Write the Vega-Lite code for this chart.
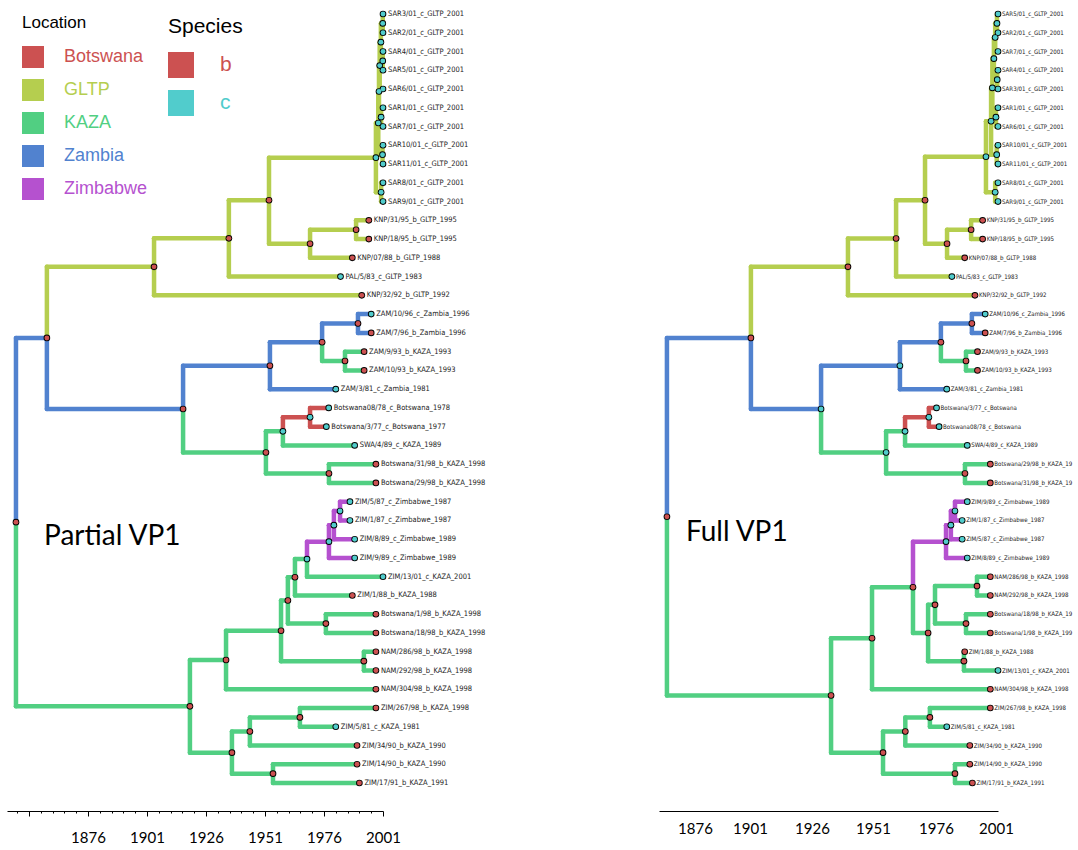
{
  "$schema": "https://vega.github.io/schema/vega-lite/v6.json",
  "padding": {"left": 7, "top": 0, "right": 0, "bottom": 0},
  "background": "white",
  "bounds": "flush",
  "spacing": 276,
  "config": {"view": {"stroke": null}, "font": "Liberation Sans"},
  "datasets": {
    "tree": [
      {"p":"L","x":1845.5,"y":28.09,"loc":"Zambia","sp":"b"},
      {"p":"L","x":1858.6,"y":18.27,"px":1845.5,"py":28.09,"loc":"Zambia","sp":"b"},
      {"p":"L","x":1919.2,"y":37.91,"px":1845.5,"py":28.09,"loc":"KAZA","sp":"b"},
      {"p":"L","x":1904.0,"y":14.48,"px":1858.6,"py":18.27,"loc":"GLTP","sp":"b"},
      {"p":"L","x":1916.3,"y":22.06,"px":1858.6,"py":18.27,"loc":"Zambia","sp":"b"},
      {"p":"L","x":1935.7,"y":12.96,"px":1904.0,"py":14.48,"loc":"GLTP","sp":"b"},
      {"p":"L","x":1992,"y":16,"px":1904.0,"py":14.48,"loc":"GLTP","sp":"b","lab":"KNP/32/92_b_GLTP_1992"},
      {"p":"L","x":1952.7,"y":10.93,"px":1935.7,"py":12.96,"loc":"GLTP","sp":"b"},
      {"p":"L","x":1983,"y":15,"px":1935.7,"py":12.96,"loc":"GLTP","sp":"c","lab":"PAL/5/83_c_GLTP_1983"},
      {"p":"L","x":1998.0,"y":8.66,"px":1952.7,"py":10.93,"loc":"GLTP","sp":"c"},
      {"p":"L","x":1970.1,"y":13.25,"px":1952.7,"py":10.93,"loc":"GLTP","sp":"b"},
      {"p":"L","x":1989.6,"y":12.5,"px":1970.1,"py":13.25,"loc":"GLTP","sp":"b"},
      {"p":"L","x":1988,"y":14,"px":1970.1,"py":13.25,"loc":"GLTP","sp":"b","lab":"KNP/07/88_b_GLTP_1988"},
      {"p":"L","x":1995,"y":12,"px":1989.6,"py":12.5,"loc":"GLTP","sp":"b","lab":"KNP/31/95_b_GLTP_1995"},
      {"p":"L","x":1995,"y":13,"px":1989.6,"py":12.5,"loc":"GLTP","sp":"b","lab":"KNP/18/95_b_GLTP_1995"},
      {"p":"L","x":1999.0,"y":6.81,"px":1998.0,"py":8.66,"loc":"GLTP","sp":"c"},
      {"p":"L","x":2000.2,"y":10.5,"px":1998.0,"py":8.66,"loc":"GLTP","sp":"c"},
      {"p":"L","x":1999.3,"y":5.13,"px":1999.0,"py":6.81,"loc":"GLTP","sp":"c"},
      {"p":"L","x":2000.8,"y":8.5,"px":1999.0,"py":6.81,"loc":"GLTP","sp":"c"},
      {"p":"L","x":1999.6,"y":3.75,"px":1999.3,"py":5.13,"loc":"GLTP","sp":"c"},
      {"p":"L","x":2000.2,"y":6.5,"px":1999.3,"py":5.13,"loc":"GLTP","sp":"c"},
      {"p":"L","x":2000.1,"y":2.5,"px":1999.6,"py":3.75,"loc":"GLTP","sp":"c"},
      {"p":"L","x":2001,"y":5,"px":1999.6,"py":3.75,"loc":"GLTP","sp":"c","lab":"SAR6/01_c_GLTP_2001"},
      {"p":"L","x":2000.9,"y":1.5,"px":2000.1,"py":2.5,"loc":"GLTP","sp":"c"},
      {"p":"L","x":2000.9,"y":3.5,"px":2000.1,"py":2.5,"loc":"GLTP","sp":"c"},
      {"p":"L","x":2001,"y":1,"px":2000.9,"py":1.5,"loc":"GLTP","sp":"c","lab":"SAR3/01_c_GLTP_2001"},
      {"p":"L","x":2001,"y":2,"px":2000.9,"py":1.5,"loc":"GLTP","sp":"c","lab":"SAR2/01_c_GLTP_2001"},
      {"p":"L","x":2001,"y":3,"px":2000.9,"py":3.5,"loc":"GLTP","sp":"c","lab":"SAR4/01_c_GLTP_2001"},
      {"p":"L","x":2001,"y":4,"px":2000.9,"py":3.5,"loc":"GLTP","sp":"c","lab":"SAR5/01_c_GLTP_2001"},
      {"p":"L","x":2001,"y":6,"px":2000.2,"py":6.5,"loc":"GLTP","sp":"c","lab":"SAR1/01_c_GLTP_2001"},
      {"p":"L","x":2001,"y":7,"px":2000.2,"py":6.5,"loc":"GLTP","sp":"c","lab":"SAR7/01_c_GLTP_2001"},
      {"p":"L","x":2001,"y":8,"px":2000.8,"py":8.5,"loc":"GLTP","sp":"c","lab":"SAR10/01_c_GLTP_2001"},
      {"p":"L","x":2001,"y":9,"px":2000.8,"py":8.5,"loc":"GLTP","sp":"c","lab":"SAR11/01_c_GLTP_2001"},
      {"p":"L","x":2001,"y":10,"px":2000.2,"py":10.5,"loc":"GLTP","sp":"c","lab":"SAR8/01_c_GLTP_2001"},
      {"p":"L","x":2001,"y":11,"px":2000.2,"py":10.5,"loc":"GLTP","sp":"c","lab":"SAR9/01_c_GLTP_2001"},
      {"p":"L","x":1953.1,"y":19.75,"px":1916.3,"py":22.06,"loc":"Zambia","sp":"b"},
      {"p":"L","x":1951.4,"y":24.38,"px":1916.3,"py":22.06,"loc":"KAZA","sp":"b"},
      {"p":"L","x":1975.2,"y":18.5,"px":1953.1,"py":19.75,"loc":"Zambia","sp":"b"},
      {"p":"L","x":1981,"y":21,"px":1953.1,"py":19.75,"loc":"Zambia","sp":"c","lab":"ZAM/3/81_c_Zambia_1981"},
      {"p":"L","x":1990.4,"y":17.5,"px":1975.2,"py":18.5,"loc":"Zambia","sp":"b"},
      {"p":"L","x":1984.9,"y":19.5,"px":1975.2,"py":18.5,"loc":"KAZA","sp":"b"},
      {"p":"L","x":1996,"y":17,"px":1990.4,"py":17.5,"loc":"Zambia","sp":"c","lab":"ZAM/10/96_c_Zambia_1996"},
      {"p":"L","x":1996,"y":18,"px":1990.4,"py":17.5,"loc":"Zambia","sp":"b","lab":"ZAM/7/96_b_Zambia_1996"},
      {"p":"L","x":1993,"y":19,"px":1984.9,"py":19.5,"loc":"KAZA","sp":"b","lab":"ZAM/9/93_b_KAZA_1993"},
      {"p":"L","x":1993,"y":20,"px":1984.9,"py":19.5,"loc":"KAZA","sp":"b","lab":"ZAM/10/93_b_KAZA_1993"},
      {"p":"L","x":1958.6,"y":23.25,"px":1951.4,"py":24.38,"loc":"KAZA","sp":"c"},
      {"p":"L","x":1978.1,"y":25.5,"px":1951.4,"py":24.38,"loc":"KAZA","sp":"b"},
      {"p":"L","x":1970.1,"y":22.5,"px":1958.6,"py":23.25,"loc":"Botswana","sp":"c"},
      {"p":"L","x":1989,"y":24,"px":1958.6,"py":23.25,"loc":"KAZA","sp":"c","lab":"SWA/4/89_c_KAZA_1989"},
      {"p":"L","x":1978,"y":22,"px":1970.1,"py":22.5,"loc":"Botswana","sp":"c","lab":"Botswana08/78_c_Botswana_1978"},
      {"p":"L","x":1977,"y":23,"px":1970.1,"py":22.5,"loc":"Botswana","sp":"c","lab":"Botswana/3/77_c_Botswana_1977"},
      {"p":"L","x":1998,"y":25,"px":1978.1,"py":25.5,"loc":"KAZA","sp":"b","lab":"Botswana/31/98_b_KAZA_1998"},
      {"p":"L","x":1998,"y":26,"px":1978.1,"py":25.5,"loc":"KAZA","sp":"b","lab":"Botswana/29/98_b_KAZA_1998"},
      {"p":"L","x":1934.5,"y":35.44,"px":1919.2,"py":37.91,"loc":"KAZA","sp":"b"},
      {"p":"L","x":1937.0,"y":40.38,"px":1919.2,"py":37.91,"loc":"KAZA","sp":"b"},
      {"p":"L","x":1957.8,"y":33.88,"px":1934.5,"py":35.44,"loc":"KAZA","sp":"b"},
      {"p":"L","x":1998,"y":37,"px":1934.5,"py":35.44,"loc":"KAZA","sp":"b","lab":"NAM/304/98_b_KAZA_1998"},
      {"p":"L","x":1960.7,"y":32.27,"px":1957.8,"py":33.88,"loc":"KAZA","sp":"b"},
      {"p":"L","x":1992.9,"y":35.5,"px":1957.8,"py":33.88,"loc":"KAZA","sp":"b"},
      {"p":"L","x":1998,"y":35,"px":1992.9,"py":35.5,"loc":"KAZA","sp":"b","lab":"NAM/286/98_b_KAZA_1998"},
      {"p":"L","x":1998,"y":36,"px":1992.9,"py":35.5,"loc":"KAZA","sp":"b","lab":"NAM/292/98_b_KAZA_1998"},
      {"p":"L","x":1963.7,"y":31.03,"px":1960.7,"py":32.27,"loc":"KAZA","sp":"b"},
      {"p":"L","x":1976.8,"y":33.5,"px":1960.7,"py":32.27,"loc":"KAZA","sp":"b"},
      {"p":"L","x":1998,"y":33,"px":1976.8,"py":33.5,"loc":"KAZA","sp":"b","lab":"Botswana/1/98_b_KAZA_1998"},
      {"p":"L","x":1998,"y":34,"px":1976.8,"py":33.5,"loc":"KAZA","sp":"b","lab":"Botswana/18/98_b_KAZA_1998"},
      {"p":"L","x":1968.8,"y":30.06,"px":1963.7,"py":31.03,"loc":"KAZA","sp":"c"},
      {"p":"L","x":1988,"y":32,"px":1963.7,"py":31.03,"loc":"KAZA","sp":"b","lab":"ZIM/1/88_b_KAZA_1988"},
      {"p":"L","x":1978.1,"y":29.13,"px":1968.8,"py":30.06,"loc":"Zimbabwe","sp":"c"},
      {"p":"L","x":2001,"y":31,"px":1968.8,"py":30.06,"loc":"KAZA","sp":"c","lab":"ZIM/13/01_c_KAZA_2001"},
      {"p":"L","x":1980.2,"y":28.25,"px":1978.1,"py":29.13,"loc":"Zimbabwe","sp":"c"},
      {"p":"L","x":1989,"y":30,"px":1978.1,"py":29.13,"loc":"Zimbabwe","sp":"c","lab":"ZIM/9/89_c_Zimbabwe_1989"},
      {"p":"L","x":1982.8,"y":27.5,"px":1980.2,"py":28.25,"loc":"Zimbabwe","sp":"c"},
      {"p":"L","x":1989,"y":29,"px":1980.2,"py":28.25,"loc":"Zimbabwe","sp":"c","lab":"ZIM/8/89_c_Zimbabwe_1989"},
      {"p":"L","x":1987,"y":27,"px":1982.8,"py":27.5,"loc":"Zimbabwe","sp":"c","lab":"ZIM/5/87_c_Zimbabwe_1987"},
      {"p":"L","x":1987,"y":28,"px":1982.8,"py":27.5,"loc":"Zimbabwe","sp":"c","lab":"ZIM/1/87_c_Zimbabwe_1987"},
      {"p":"L","x":1944.6,"y":39.25,"px":1937.0,"py":40.38,"loc":"KAZA","sp":"b"},
      {"p":"L","x":1954.4,"y":41.5,"px":1937.0,"py":40.38,"loc":"KAZA","sp":"b"},
      {"p":"L","x":1965.8,"y":38.5,"px":1944.6,"py":39.25,"loc":"KAZA","sp":"b"},
      {"p":"L","x":1990,"y":40,"px":1944.6,"py":39.25,"loc":"KAZA","sp":"b","lab":"ZIM/34/90_b_KAZA_1990"},
      {"p":"L","x":1998,"y":38,"px":1965.8,"py":38.5,"loc":"KAZA","sp":"b","lab":"ZIM/267/98_b_KAZA_1998"},
      {"p":"L","x":1981,"y":39,"px":1965.8,"py":38.5,"loc":"KAZA","sp":"c","lab":"ZIM/5/81_c_KAZA_1981"},
      {"p":"L","x":1990,"y":41,"px":1954.4,"py":41.5,"loc":"KAZA","sp":"b","lab":"ZIM/14/90_b_KAZA_1990"},
      {"p":"L","x":1991,"y":42,"px":1954.4,"py":41.5,"loc":"KAZA","sp":"b","lab":"ZIM/17/91_b_KAZA_1991"},

      {"p":"R","x":1871.7,"y":27.8,"loc":"Zambia","sp":"b"},
      {"p":"R","x":1904.5,"y":18.27,"px":1871.7,"py":27.8,"loc":"Zambia","sp":"b"},
      {"p":"R","x":1935.8,"y":37.33,"px":1871.7,"py":27.8,"loc":"KAZA","sp":"b"},
      {"p":"R","x":1942.4,"y":14.48,"px":1904.5,"py":18.27,"loc":"GLTP","sp":"b"},
      {"p":"R","x":1931.9,"y":22.06,"px":1904.5,"py":18.27,"loc":"Zambia","sp":"c"},
      {"p":"R","x":1961.2,"y":12.97,"px":1942.4,"py":14.48,"loc":"GLTP","sp":"b"},
      {"p":"R","x":1992,"y":16,"px":1942.4,"py":14.48,"loc":"GLTP","sp":"b","lab":"KNP/32/92_b_GLTP_1992"},
      {"p":"R","x":1972.5,"y":10.93,"px":1961.2,"py":12.97,"loc":"GLTP","sp":"b"},
      {"p":"R","x":1983,"y":15,"px":1961.2,"py":12.97,"loc":"GLTP","sp":"c","lab":"PAL/5/83_c_GLTP_1983"},
      {"p":"R","x":1996.3,"y":8.61,"px":1972.5,"py":10.93,"loc":"GLTP","sp":"c"},
      {"p":"R","x":1981.1,"y":13.25,"px":1972.5,"py":10.93,"loc":"GLTP","sp":"b"},
      {"p":"R","x":1990.5,"y":12.5,"px":1981.1,"py":13.25,"loc":"GLTP","sp":"b"},
      {"p":"R","x":1988,"y":14,"px":1981.1,"py":13.25,"loc":"GLTP","sp":"b","lab":"KNP/07/88_b_GLTP_1988"},
      {"p":"R","x":1995,"y":12,"px":1990.5,"py":12.5,"loc":"GLTP","sp":"b","lab":"KNP/31/95_b_GLTP_1995"},
      {"p":"R","x":1995,"y":13,"px":1990.5,"py":12.5,"loc":"GLTP","sp":"b","lab":"KNP/18/95_b_GLTP_1995"},
      {"p":"R","x":1998.3,"y":6.72,"px":1996.3,"py":8.61,"loc":"GLTP","sp":"c"},
      {"p":"R","x":1999.9,"y":10.5,"px":1996.3,"py":8.61,"loc":"GLTP","sp":"c"},
      {"p":"R","x":1998.8,"y":4.94,"px":1998.3,"py":6.72,"loc":"GLTP","sp":"c"},
      {"p":"R","x":2000.5,"y":8.5,"px":1998.3,"py":6.72,"loc":"GLTP","sp":"c"},
      {"p":"R","x":1999.4,"y":3.38,"px":1998.8,"py":4.94,"loc":"GLTP","sp":"c"},
      {"p":"R","x":2000.2,"y":6.5,"px":1998.8,"py":4.94,"loc":"GLTP","sp":"c"},
      {"p":"R","x":1999.9,"y":2.25,"px":1999.4,"py":3.38,"loc":"GLTP","sp":"c"},
      {"p":"R","x":2000.7,"y":4.5,"px":1999.4,"py":3.38,"loc":"GLTP","sp":"c"},
      {"p":"R","x":2000.6,"y":1.5,"px":1999.9,"py":2.25,"loc":"GLTP","sp":"c"},
      {"p":"R","x":2001,"y":3,"px":1999.9,"py":2.25,"loc":"GLTP","sp":"c","lab":"SAR7/01_c_GLTP_2001"},
      {"p":"R","x":2001,"y":1,"px":2000.6,"py":1.5,"loc":"GLTP","sp":"c","lab":"SAR5/01_c_GLTP_2001"},
      {"p":"R","x":2001,"y":2,"px":2000.6,"py":1.5,"loc":"GLTP","sp":"c","lab":"SAR2/01_c_GLTP_2001"},
      {"p":"R","x":2001,"y":4,"px":2000.7,"py":4.5,"loc":"GLTP","sp":"c","lab":"SAR4/01_c_GLTP_2001"},
      {"p":"R","x":2001,"y":5,"px":2000.7,"py":4.5,"loc":"GLTP","sp":"c","lab":"SAR3/01_c_GLTP_2001"},
      {"p":"R","x":2001,"y":6,"px":2000.2,"py":6.5,"loc":"GLTP","sp":"c","lab":"SAR1/01_c_GLTP_2001"},
      {"p":"R","x":2001,"y":7,"px":2000.2,"py":6.5,"loc":"GLTP","sp":"c","lab":"SAR6/01_c_GLTP_2001"},
      {"p":"R","x":2001,"y":8,"px":2000.5,"py":8.5,"loc":"GLTP","sp":"c","lab":"SAR10/01_c_GLTP_2001"},
      {"p":"R","x":2001,"y":9,"px":2000.5,"py":8.5,"loc":"GLTP","sp":"c","lab":"SAR11/01_c_GLTP_2001"},
      {"p":"R","x":2001,"y":10,"px":1999.9,"py":10.5,"loc":"GLTP","sp":"c","lab":"SAR8/01_c_GLTP_2001"},
      {"p":"R","x":2001,"y":11,"px":1999.9,"py":10.5,"loc":"GLTP","sp":"c","lab":"SAR9/01_c_GLTP_2001"},
      {"p":"R","x":1962.7,"y":19.75,"px":1931.9,"py":22.06,"loc":"Zambia","sp":"c"},
      {"p":"R","x":1957.3,"y":24.38,"px":1931.9,"py":22.06,"loc":"KAZA","sp":"c"},
      {"p":"R","x":1978.7,"y":18.5,"px":1962.7,"py":19.75,"loc":"Zambia","sp":"b"},
      {"p":"R","x":1981,"y":21,"px":1962.7,"py":19.75,"loc":"Zambia","sp":"c","lab":"ZAM/3/81_c_Zambia_1981"},
      {"p":"R","x":1990.8,"y":17.5,"px":1978.7,"py":18.5,"loc":"Zambia","sp":"b"},
      {"p":"R","x":1988.5,"y":19.5,"px":1978.7,"py":18.5,"loc":"KAZA","sp":"b"},
      {"p":"R","x":1996,"y":17,"px":1990.8,"py":17.5,"loc":"Zambia","sp":"c","lab":"ZAM/10/96_c_Zambia_1996"},
      {"p":"R","x":1996,"y":18,"px":1990.8,"py":17.5,"loc":"Zambia","sp":"b","lab":"ZAM/7/96_b_Zambia_1996"},
      {"p":"R","x":1993,"y":19,"px":1988.5,"py":19.5,"loc":"KAZA","sp":"b","lab":"ZAM/9/93_b_KAZA_1993"},
      {"p":"R","x":1993,"y":20,"px":1988.5,"py":19.5,"loc":"KAZA","sp":"b","lab":"ZAM/10/93_b_KAZA_1993"},
      {"p":"R","x":1964.7,"y":23.25,"px":1957.3,"py":24.38,"loc":"KAZA","sp":"c"},
      {"p":"R","x":1988.1,"y":25.5,"px":1957.3,"py":24.38,"loc":"KAZA","sp":"b"},
      {"p":"R","x":1974.0,"y":22.5,"px":1964.7,"py":23.25,"loc":"Botswana","sp":"c"},
      {"p":"R","x":1989,"y":24,"px":1964.7,"py":23.25,"loc":"KAZA","sp":"c","lab":"SWA/4/89_c_KAZA_1989"},
      {"p":"R","x":1977,"y":22,"px":1974.0,"py":22.5,"loc":"Botswana","sp":"c","lab":"Botswana/3/77_c_Botswana_1977"},
      {"p":"R","x":1978,"y":23,"px":1974.0,"py":22.5,"loc":"Botswana","sp":"c","lab":"Botswana08/78_c_Botswana_1978"},
      {"p":"R","x":1998,"y":25,"px":1988.1,"py":25.5,"loc":"KAZA","sp":"b","lab":"Botswana/29/98_b_KAZA_1998"},
      {"p":"R","x":1998,"y":26,"px":1988.1,"py":25.5,"loc":"KAZA","sp":"b","lab":"Botswana/31/98_b_KAZA_1998"},
      {"p":"R","x":1951.8,"y":34.28,"px":1935.8,"py":37.33,"loc":"KAZA","sp":"b"},
      {"p":"R","x":1956.1,"y":40.38,"px":1935.8,"py":37.33,"loc":"KAZA","sp":"b"},
      {"p":"R","x":1967.8,"y":31.56,"px":1951.8,"py":34.28,"loc":"KAZA","sp":"b"},
      {"p":"R","x":1998,"y":37,"px":1951.8,"py":34.28,"loc":"KAZA","sp":"b","lab":"NAM/304/98_b_KAZA_1998"},
      {"p":"R","x":1980.7,"y":29.13,"px":1967.8,"py":31.56,"loc":"Zimbabwe","sp":"c"},
      {"p":"R","x":1973.7,"y":34,"px":1967.8,"py":31.56,"loc":"KAZA","sp":"b"},
      {"p":"R","x":1982.6,"y":28.25,"px":1980.7,"py":29.13,"loc":"Zimbabwe","sp":"c"},
      {"p":"R","x":1989,"y":30,"px":1980.7,"py":29.13,"loc":"Zimbabwe","sp":"c","lab":"ZIM/8/89_c_Zimbabwe_1989"},
      {"p":"R","x":1984.2,"y":27.5,"px":1982.6,"py":28.25,"loc":"Zimbabwe","sp":"c"},
      {"p":"R","x":1987,"y":29,"px":1982.6,"py":28.25,"loc":"Zimbabwe","sp":"c","lab":"ZIM/5/87_c_Zimbabwe_1987"},
      {"p":"R","x":1989,"y":27,"px":1984.2,"py":27.5,"loc":"Zimbabwe","sp":"c","lab":"ZIM/9/89_c_Zimbabwe_1989"},
      {"p":"R","x":1987,"y":28,"px":1984.2,"py":27.5,"loc":"Zimbabwe","sp":"c","lab":"ZIM/1/87_c_Zimbabwe_1987"},
      {"p":"R","x":1976.4,"y":32.5,"px":1973.7,"py":34,"loc":"KAZA","sp":"b"},
      {"p":"R","x":1987.7,"y":35.5,"px":1973.7,"py":34,"loc":"KAZA","sp":"b"},
      {"p":"R","x":1992.8,"y":31.5,"px":1976.4,"py":32.5,"loc":"KAZA","sp":"b"},
      {"p":"R","x":1988.5,"y":33.5,"px":1976.4,"py":32.5,"loc":"KAZA","sp":"b"},
      {"p":"R","x":1998,"y":31,"px":1992.8,"py":31.5,"loc":"KAZA","sp":"b","lab":"NAM/286/98_b_KAZA_1998"},
      {"p":"R","x":1998,"y":32,"px":1992.8,"py":31.5,"loc":"KAZA","sp":"b","lab":"NAM/292/98_b_KAZA_1998"},
      {"p":"R","x":1998,"y":33,"px":1988.5,"py":33.5,"loc":"KAZA","sp":"b","lab":"Botswana/18/98_b_KAZA_1998"},
      {"p":"R","x":1998,"y":34,"px":1988.5,"py":33.5,"loc":"KAZA","sp":"b","lab":"Botswana/1/98_b_KAZA_1998"},
      {"p":"R","x":1988,"y":35,"px":1987.7,"py":35.5,"loc":"KAZA","sp":"b","lab":"ZIM/1/88_b_KAZA_1988"},
      {"p":"R","x":2001,"y":36,"px":1987.7,"py":35.5,"loc":"KAZA","sp":"c","lab":"ZIM/13/01_c_KAZA_2001"},
      {"p":"R","x":1964.8,"y":39.25,"px":1956.1,"py":40.38,"loc":"KAZA","sp":"b"},
      {"p":"R","x":1984.2,"y":41.5,"px":1956.1,"py":40.38,"loc":"KAZA","sp":"b"},
      {"p":"R","x":1974.4,"y":38.5,"px":1964.8,"py":39.25,"loc":"KAZA","sp":"b"},
      {"p":"R","x":1990,"y":40,"px":1964.8,"py":39.25,"loc":"KAZA","sp":"b","lab":"ZIM/34/90_b_KAZA_1990"},
      {"p":"R","x":1998,"y":38,"px":1974.4,"py":38.5,"loc":"KAZA","sp":"b","lab":"ZIM/267/98_b_KAZA_1998"},
      {"p":"R","x":1981,"y":39,"px":1974.4,"py":38.5,"loc":"KAZA","sp":"c","lab":"ZIM/5/81_c_KAZA_1981"},
      {"p":"R","x":1990,"y":41,"px":1984.2,"py":41.5,"loc":"KAZA","sp":"b","lab":"ZIM/14/90_b_KAZA_1990"},
      {"p":"R","x":1991,"y":42,"px":1984.2,"py":41.5,"loc":"KAZA","sp":"b","lab":"ZIM/17/91_b_KAZA_1991"}
    ],
    "titles": [
      {"p":"L","x":1857.4,"y":28.88,"t":"Partial VP1"},
      {"p":"R","x":1879.1,"y":28.67,"t":"Full VP1"}
    ]
  },
  "hconcat": [
    {
      "width": 376,
      "height": 811,
      "layer": [
        {
          "data": {"name": "tree"},
          "transform": [{"filter": "datum.p == 'L'"}],
          "mark": {"type": "rule", "strokeWidth": 4.5, "strokeCap": "round"},
          "encoding": {
            "x": {"field": "px", "type": "quantitative", "title": null,
                  "scale": {"domain": [1841.7, 2001], "nice": false, "zero": false},
                  "axis": {"title": null, "grid": false, "tickCount": 100,
                           "values": [1846,1851,1856,1861,1866,1871,1876,1881,1886,1891,1896,1901,1906,1911,1916,1921,1926,1931,1936,1941,1946,1951,1956,1961,1966,1971,1976,1981,1986,1991,1996,2001],
                           "labelExpr": "(datum.value >= 1876 && (datum.value - 1876) % 25 == 0) ? ('' + datum.value) : ''",
                           "tickSize": {"condition": {"test": "(datum.value - 1851) % 25 == 0", "value": 5}, "value": 2},
                           "tickColor": "black", "domainColor": "black", "domainWidth": 1,
                           "labelFont": "Lato", "labelFontSize": 15, "labelColor": "black",
                           "labelPadding": 14, "labelFlush": false, "labelOverlap": false}},
            "y": {"field": "py", "type": "quantitative", "title": null,
                  "scale": {"domain": [0.2536, 43.49], "reverse": true, "nice": false, "zero": false},
                  "axis": null},
            "y2": {"field": "y"},
            "stroke": {"field": "loc", "type": "nominal",
                      "scale": {"domain": ["Zimbabwe","Zambia","KAZA","GLTP","Botswana"],
                                "range": ["#B551CF","#5182CF","#51CF82","#B5CE4F","#CC5151"]},
                      "legend": null}
          }
        },
        {
          "data": {"name": "tree"},
          "transform": [{"filter": "datum.p == 'L'"}],
          "mark": {"type": "rule", "strokeWidth": 4.5, "strokeCap": "round"},
          "encoding": {
            "x": {"field": "px", "type": "quantitative", "title": null},
            "x2": {"field": "x"},
            "y": {"field": "y", "type": "quantitative", "title": null},
            "stroke": {"field": "loc", "type": "nominal", "legend": null}
          }
        },
        {
          "data": {"name": "tree"},
          "transform": [{"filter": "datum.p == 'L'"}],
          "mark": {"type": "point", "filled": true, "size": 44, "color": "black", "opacity": 1},
          "encoding": {
            "x": {"field": "x", "type": "quantitative", "title": null},
            "y": {"field": "y", "type": "quantitative", "title": null}
          }
        },
        {
          "data": {"name": "tree"},
          "transform": [{"filter": "datum.p == 'L'"}],
          "mark": {"type": "point", "filled": true, "size": 24, "opacity": 1},
          "encoding": {
            "x": {"field": "x", "type": "quantitative", "title": null},
            "y": {"field": "y", "type": "quantitative", "title": null},
            "fill": {"field": "sp", "type": "nominal",
                     "scale": {"domain": ["b","c"], "range": ["#CC5151","#51CCCC"]},
                     "legend": {
                       "orient": "none", "legendX": 161, "legendY": 16,
                       "title": "Species", "titleFont": "Liberation Sans", "titleFontSize": 21,
                       "titleFontWeight": "normal", "titleColor": "black", "titlePadding": 15,
                       "symbolType": "square", "symbolSize": 676, "symbolStrokeWidth": 0, "symbolOpacity": 1,
                       "labelFont": "Liberation Sans", "labelFontSize": 21, "labelOffset": 26, "rowPadding": 12,
                       "labelColor": {"expr": "datum.value == 'b' ? '#CC5151' : '#51CCCC'"}
                     }}
          }
        },
        {
          "data": {"name": "tree"},
          "transform": [{"filter": "datum.p == 'none'"}],
          "mark": {"type": "square", "filled": true, "opacity": 1},
          "encoding": {
            "x": {"field": "x", "type": "quantitative", "title": null},
            "y": {"field": "y", "type": "quantitative", "title": null},
            "color": {"field": "loc", "type": "nominal",
                      "scale": {"domain": ["Botswana","GLTP","KAZA","Zambia","Zimbabwe"],
                                "range": ["#CC5151","#B5CE4F","#51CF82","#5182CF","#B551CF"]},
                      "legend": {
                        "orient": "none", "legendX": 15, "legendY": 15,
                        "title": "Location", "titleFont": "Liberation Sans", "titleFontSize": 17,
                        "titleFontWeight": "normal", "titleColor": "black", "titlePadding": 14,
                        "symbolType": "square", "symbolSize": 484, "symbolStrokeWidth": 0, "symbolOpacity": 1,
                        "labelFont": "Liberation Sans", "labelFontSize": 18, "labelOffset": 20, "rowPadding": 11,
                        "labelColor": {"expr": "datum.value == 'Botswana' ? '#CC5151' : datum.value == 'GLTP' ? '#B5CE4F' : datum.value == 'KAZA' ? '#51CF82' : datum.value == 'Zambia' ? '#5182CF' : '#B551CF'"}
                      }}
          }
        },
        {
          "data": {"name": "tree"},
          "transform": [{"filter": "datum.p == 'L' && datum.lab != null"}],
          "mark": {"type": "text", "align": "left", "baseline": "middle", "dx": 5,
                   "font": "DejaVu Sans Condensed, Liberation Sans Narrow, sans-serif",
                   "fontSize": 7.5, "color": "#222222"},
          "encoding": {
            "x": {"field": "x", "type": "quantitative", "title": null},
            "y": {"field": "y", "type": "quantitative", "title": null},
            "text": {"field": "lab"}
          }
        },
        {
          "data": {"name": "titles"},
          "transform": [{"filter": "datum.p == 'L'"}],
          "mark": {"type": "text", "align": "left", "baseline": "middle", "font": "Lato", "fontSize": 28, "color": "black"},
          "encoding": {
            "x": {"field": "x", "type": "quantitative", "title": null},
            "y": {"field": "y", "type": "quantitative", "title": null},
            "text": {"field": "t"}
          }
        }
      ]
    },
    {
      "width": 339,
      "height": 811,
      "layer": [
        {
          "data": {"name": "tree"},
          "transform": [{"filter": "datum.p == 'R'"}],
          "mark": {"type": "rule", "strokeWidth": 4.5, "strokeCap": "round"},
          "encoding": {
            "x": {"field": "px", "type": "quantitative", "title": null,
                  "scale": {"domain": [1868.6, 2001], "nice": false, "zero": false},
                  "axis": {"title": null, "grid": false, "tickCount": 100,
                           "values": [1876, 1901, 1926, 1951, 1976, 2001],
                           "format": "d", "ticks": false,
                           "labelOffset": {"condition": [
                             {"test": "datum.value == 1876", "value": 17},
                             {"test": "datum.value == 1901", "value": 8},
                             {"test": "datum.value == 1926", "value": 6},
                             {"test": "datum.value == 1951", "value": 3},
                             {"test": "datum.value == 1976", "value": 2}], "value": -2},
                           "domainColor": "black", "domainWidth": 1,
                           "labelFont": "Lato", "labelFontSize": 15, "labelColor": "black",
                           "labelPadding": 10, "labelFlush": false, "labelOverlap": false}},
            "y": {"field": "py", "type": "quantitative", "title": null,
                  "scale": {"domain": [0.2536, 43.49], "reverse": true, "nice": false, "zero": false},
                  "axis": null},
            "y2": {"field": "y"},
            "stroke": {"field": "loc", "type": "nominal", "legend": null}
          }
        },
        {
          "data": {"name": "tree"},
          "transform": [{"filter": "datum.p == 'R'"}],
          "mark": {"type": "rule", "strokeWidth": 4.5, "strokeCap": "round"},
          "encoding": {
            "x": {"field": "px", "type": "quantitative", "title": null},
            "x2": {"field": "x"},
            "y": {"field": "y", "type": "quantitative", "title": null},
            "stroke": {"field": "loc", "type": "nominal", "legend": null}
          }
        },
        {
          "data": {"name": "tree"},
          "transform": [{"filter": "datum.p == 'R'"}],
          "mark": {"type": "point", "filled": true, "size": 44, "color": "black", "opacity": 1},
          "encoding": {
            "x": {"field": "x", "type": "quantitative", "title": null},
            "y": {"field": "y", "type": "quantitative", "title": null}
          }
        },
        {
          "data": {"name": "tree"},
          "transform": [{"filter": "datum.p == 'R'"}],
          "mark": {"type": "point", "filled": true, "size": 24, "opacity": 1},
          "encoding": {
            "x": {"field": "x", "type": "quantitative", "title": null},
            "y": {"field": "y", "type": "quantitative", "title": null},
            "fill": {"field": "sp", "type": "nominal"}
          }
        },
        {
          "data": {"name": "tree"},
          "transform": [{"filter": "datum.p == 'R' && datum.lab != null"}],
          "mark": {"type": "text", "align": "left", "baseline": "middle", "dx": 4, "limit": 80, "ellipsis": " ",
                   "font": "DejaVu Sans Condensed, Liberation Sans Narrow, sans-serif",
                   "fontSize": 6.1, "color": "#222222"},
          "encoding": {
            "x": {"field": "x", "type": "quantitative", "title": null},
            "y": {"field": "y", "type": "quantitative", "title": null},
            "text": {"field": "lab"}
          }
        },
        {
          "data": {"name": "titles"},
          "transform": [{"filter": "datum.p == 'R'"}],
          "mark": {"type": "text", "align": "left", "baseline": "middle", "font": "Lato", "fontSize": 28, "color": "black"},
          "encoding": {
            "x": {"field": "x", "type": "quantitative", "title": null},
            "y": {"field": "y", "type": "quantitative", "title": null},
            "text": {"field": "t"}
          }
        }
      ]
    }
  ]
}
